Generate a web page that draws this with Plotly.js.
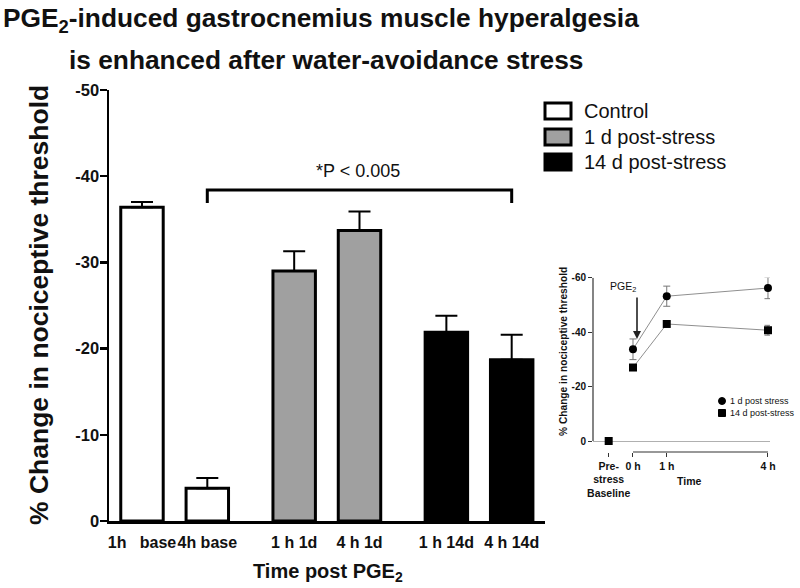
<!DOCTYPE html>
<html><head><meta charset="utf-8">
<script src="https://cdn.plot.ly/plotly-3.0.1.min.js"></script>
<style>html,body{margin:0;padding:0;background:#fff}#chart{width:800px;height:588px}</style>
</head><body><div id="chart"></div>
<script>
// ---- main bar chart data ----
const categories = ['1h\u00a0\u00a0\u00a0base', '4h base', '1 h 1d', '4 h 1d', '1 h 14d', '4 h 14d'];
const barPositions = [0, 1, 2.33, 3.33, 4.66, 5.66];
const controlValues = [-36.4, -3.8];
const controlErrors = [0.6, 1.2];
const day1Values = [-29.0, -33.7];
const day1Errors = [2.3, 2.2];
const day14Values = [-21.9, -18.7];
const day14Errors = [1.9, 2.9];
const yTickVals = [-50, -40, -30, -20, -10, 0];
const yTickText = ['-50', '-40', '-30', '-20', '-10', '0'];
const bracketLevel = -38.4;
const bracketTick = -36.9;

// ---- inset data ----
const insetTimes = [0, 1, 4];
const inset1dValues = [-33.7, -53.2, -56.2];
const inset1dErrors = [3.8, 3.7, 3.9];
const inset14dValues = [-27.0, -43.0, -40.7];
const inset14dErrors = [0.8, 0.8, 1.8];
const baselineTime = [-0.72];
const baselineValue = [0];
const insetXTickVals = [-0.72, 0, 1, 4];
const insetXTickText = ['Pre-<br>stress<br>Baseline', '0 h', '1 h', '4 h'];
const insetYTickVals = [-60, -40, -20, 0];
const insetYTickText = ['-60', '-40', '-20', '0'];

const FONT = '"Liberation Sans", Arial, Helvetica, sans-serif';
const px = x => x / 800;
const py = y => 1 - y / 588;
const zeros = a => a.map(() => 0);

function barTrace(xs, ys, errs, color, name) {
  return {
    type: 'bar', x: xs, y: ys, name: name, width: 0.65,
    marker: {color: color, line: {color: '#000', width: 3}},
    error_y: {type: 'data', symmetric: false, array: zeros(errs), arrayminus: errs,
              color: '#000', thickness: 2, width: 11},
    cliponaxis: false, hoverinfo: 'skip'
  };
}

const traces = [
  barTrace(barPositions.slice(0, 2), controlValues, controlErrors, '#ffffff', 'Control'),
  barTrace(barPositions.slice(2, 4), day1Values, day1Errors, '#a0a0a0', '1 d post-stress'),
  barTrace(barPositions.slice(4, 6), day14Values, day14Errors, '#000000', '14 d post-stress'),
  {
    type: 'scatter', mode: 'lines+markers', x: insetTimes, y: inset1dValues, xaxis: 'x2', yaxis: 'y2',
    line: {color: '#8f8f8f', width: 1}, marker: {symbol: 'circle', size: 8, color: '#000'},
    error_y: {type: 'data', array: inset1dErrors, color: '#777', thickness: 1, width: 3.5},
    cliponaxis: false, name: '1 d post stress'
  },
  {
    type: 'scatter', mode: 'lines+markers', x: insetTimes, y: inset14dValues, xaxis: 'x2', yaxis: 'y2',
    line: {color: '#8f8f8f', width: 1}, marker: {symbol: 'square', size: 8, color: '#000'},
    error_y: {type: 'data', array: inset14dErrors, color: '#777', thickness: 1, width: 3.5},
    cliponaxis: false, name: '14 d post-stress'
  },
  {
    type: 'scatter', mode: 'markers', x: baselineTime, y: baselineValue, xaxis: 'x2', yaxis: 'y2',
    marker: {symbol: 'square', size: 8, color: '#000'}, cliponaxis: false, name: 'Pre-stress baseline'
  }
];

const bp = barPositions;
const shapes = [
  {type: 'path', xref: 'x', yref: 'y',
   path: `M ${bp[1]},${bracketTick} L ${bp[1]},${bracketLevel} L ${bp[5]},${bracketLevel} L ${bp[5]},${bracketTick}`,
   line: {color: '#000', width: 3}},
  // main legend swatches
  {type: 'rect', xref: 'paper', yref: 'paper', x0: px(545), x1: px(571), y0: py(103), y1: py(119),
   fillcolor: '#ffffff', line: {color: '#000', width: 3}},
  {type: 'rect', xref: 'paper', yref: 'paper', x0: px(545), x1: px(571), y0: py(129), y1: py(145),
   fillcolor: '#a0a0a0', line: {color: '#000', width: 3}},
  {type: 'rect', xref: 'paper', yref: 'paper', x0: px(545), x1: px(571), y0: py(154), y1: py(170),
   fillcolor: '#000000', line: {color: '#000', width: 3}},
  // inset axes lines
  {type: 'line', xref: 'x2 domain', yref: 'y2', x0: 0, x1: 0, y0: 0, y1: -60, line: {color: '#333', width: 1.2}},
  {type: 'line', xref: 'x2', yref: 'y2 domain', x0: 0, x1: 4, y0: 0, y1: 0, line: {color: '#333', width: 1.2}},
  // inset legend markers
  {type: 'circle', xref: 'paper', yref: 'paper', x0: px(718.5), x1: px(725.5), y0: py(404.5), y1: py(397.5),
   fillcolor: '#000', line: {color: '#000', width: 1}},
  {type: 'rect', xref: 'paper', yref: 'paper', x0: px(718.5), x1: px(725.5), y0: py(416.5), y1: py(409.5),
   fillcolor: '#000', line: {color: '#000', width: 1}}
];

function ann(text, x, y, size, opts) {
  return Object.assign({
    text: text, xref: 'paper', yref: 'paper', x: px(x), y: py(y), showarrow: false,
    xanchor: 'center', yanchor: 'middle',
    font: {family: FONT, size: size, color: '#111'}
  }, opts || {});
}
const bold = (size) => ({family: FONT, size: size, color: '#111', weight: 'bold'});

const annotations = [
  ann('PGE<sub>2</sub>-induced gastrocnemius muscle hyperalgesia', 1, 20, 26.3, {xanchor: 'left', font: bold(26.3)}),
  ann('is enhanced after water-avoidance stress', 67, 60, 26.3, {xanchor: 'left', font: bold(26.3)}),
  ann('% Change in nociceptive threshold', 39, 305, 26.5, {textangle: -90, font: bold(26.5)}),
  ann('Time post PGE<sub>2</sub>', 328, 572, 20, {font: bold(20)}),
  ann('*P < 0.005', 358, 171, 18),
  ann('Control', 582, 111, 20, {xanchor: 'left'}),
  ann('1 d post-stress', 582, 137, 20, {xanchor: 'left'}),
  ann('14 d post-stress', 582, 162, 20, {xanchor: 'left'}),
  // inset texts
  ann('% Change in nociceptive threshold', 563, 352, 10.2, {textangle: -90, font: bold(10.2)}),
  ann('Time', 689, 481, 10.5, {font: bold(10.5)}),
  ann('PGE<sub>2</sub>', 623, 287, 10.5),
  {text: '', xref: 'paper', yref: 'paper', x: px(637), y: py(339), ax: 0, ay: -43,
   showarrow: true, arrowhead: 2, arrowsize: 1, arrowwidth: 1.6, arrowcolor: '#222'},
  ann('1 d post stress', 728, 401, 9, {xanchor: 'left'}),
  ann('14 d post-stress', 728, 413, 9, {xanchor: 'left'})
];

const layout = {
  width: 800, height: 588,
  margin: {l: 0, r: 0, t: 0, b: 0, pad: 0},
  paper_bgcolor: '#ffffff', plot_bgcolor: '#ffffff',
  showlegend: false, barmode: 'overlay',
  font: {family: FONT, color: '#111'},
  xaxis: {
    domain: [px(109), px(545)], range: [-0.505, 6.17], anchor: 'y',
    showline: true, linecolor: '#000', linewidth: 2.5, ticks: '', tickangle: 0, ticklabelstandoff: 5,
    tickmode: 'array', tickvals: barPositions, ticktext: categories,
    tickfont: bold(16), showgrid: false, zeroline: false, fixedrange: true
  },
  yaxis: {
    domain: [py(521), py(90)], range: [0, -50], anchor: 'x',
    showline: true, linecolor: '#000', linewidth: 2.5, ticklabelstandoff: -3,
    ticks: 'outside', ticklen: 7, tickwidth: 2.5, tickcolor: '#000',
    tickmode: 'array', tickvals: yTickVals, ticktext: yTickText,
    tickfont: bold(16.5), showgrid: false, zeroline: false, fixedrange: true
  },
  xaxis2: {
    domain: [px(593), px(770)], range: [-1.185, 4.06], anchor: 'y2',
    showline: false, ticks: 'outside', ticklen: 4, tickwidth: 1, tickcolor: '#333', tickangle: 0,
    tickmode: 'array', tickvals: insetXTickVals, ticktext: insetXTickText,
    tickfont: bold(10.5), showgrid: false, zeroline: false, fixedrange: true
  },
  yaxis2: {
    domain: [py(452), py(277.7)], range: [4.04, -60], anchor: 'x2',
    showline: false, ticks: 'outside', ticklen: 4, tickwidth: 1, tickcolor: '#333',
    tickmode: 'array', tickvals: insetYTickVals, ticktext: insetYTickText,
    tickfont: bold(10), showgrid: false,
    zeroline: true, zerolinecolor: '#b0b0b0', zerolinewidth: 1, fixedrange: true
  },
  shapes: shapes,
  annotations: annotations
};

Plotly.newPlot('chart', traces, layout, {displayModeBar: false, staticPlot: true});
</script>
</body></html>
